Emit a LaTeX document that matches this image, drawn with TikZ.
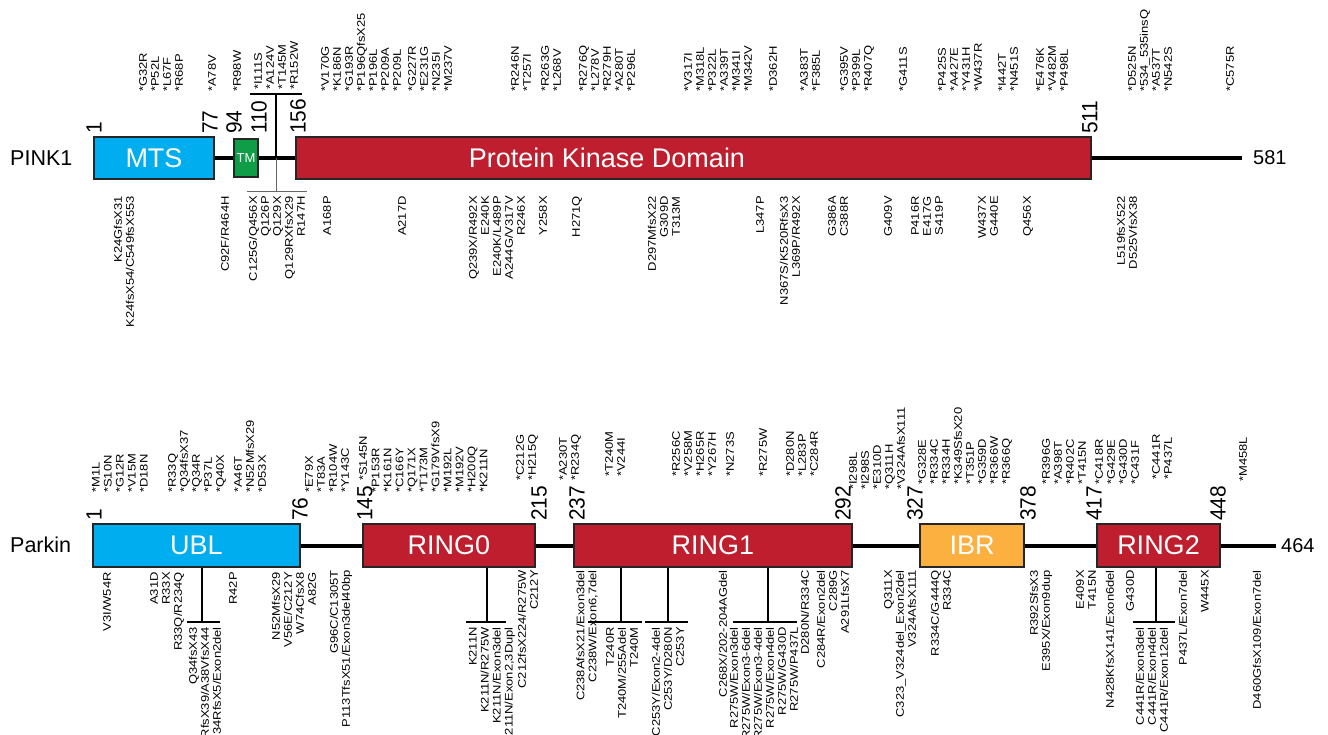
\documentclass[tikz,border=0pt]{standalone}
\usepackage{fontspec}
\setmainfont{Liberation Sans}
\newfontfamily\lf[FakeStretch=1.18]{Liberation Sans}
\newfontfamily\nf[FakeStretch=0.95]{Liberation Sans}
\definecolor{mtsblue}{HTML}{00AEEF}
\definecolor{tmgreen}{HTML}{0F9D48}
\definecolor{kred}{HTML}{BE1E2D}
\definecolor{ibrorange}{HTML}{FBB040}
\begin{document}
\begin{tikzpicture}[x=1pt,y=-1pt,
  lab/.style={font=\lf\fontsize{11}{12}\selectfont, inner sep=0pt, rotate=90},
  up/.style={lab, anchor=west, align=left},
  dn/.style={lab, anchor=east, align=right},
  num/.style={font=\nf\fontsize{22}{22}\selectfont, inner sep=0pt, rotate=90, anchor=west},
  dom/.style={draw=black!85, line width=1.3pt, inner sep=0pt, text=white, font=\fontsize{27}{27}\selectfont},
  domtext/.style={text=white, inner sep=0pt, font=\fontsize{27}{27}\selectfont},
  bb/.style={line width=4pt},
  brk/.style={line width=2.5pt},
  pbrk/.style={line width=1.5pt},
  rowname/.style={font=\fontsize{21.5}{21.5}\selectfont, anchor=west, inner sep=0pt},
  endnum/.style={font=\fontsize{20}{20}\selectfont, anchor=west, inner sep=0pt}]
\useasboundingbox (0,0) rectangle (1328,734);
\clip (0,0) rectangle (1328,734);
\fill[white] (0,0) rectangle (1328,734);

% ---------------- PINK1 ----------------
\node[rowname] (pinklab) at (10,158) {PINK1};
\node[dom, fill=mtsblue, minimum width=120pt, minimum height=42pt] (mts) at (154,158) {MTS};
\node[dom, fill=tmgreen, minimum width=24pt, minimum height=38pt, font=\fontsize{13}{13}\selectfont] (tm) at (246,158) {TM};
\node[dom, fill=kred, minimum width=795pt, minimum height=42pt] (pkd) at (693.5,158) {};
\node[domtext] (pkdlab) at (607,158) {Protein Kinase Domain};
\coordinate (pend) at (1242,158);
\node[endnum] (p581) at (1253,158) {581};
\draw[bb] (mts.east) -- (tm.west);
\draw[bb] (tm.east) -- (pkd.west);
\draw[bb] (pkd.east) -- (pend);

\node[num] (pn1) at (94,134) {1};
\node[num] (pn77) at (210,134) {77};
\node[num] (pn94) at (234,134) {94};
\node[num] (pn110) at (259,134) {110};
\node[num] (pn156) at (298,134) {156};
\node[num] (pn511) at (1090,134) {511};

% brackets
\coordinate (pbt) at (276,94);
\draw[pbrk] (pbt |- pkd.west) -- (pbt);
\draw[pbrk] ([xshift=-26pt]pbt) -- ([xshift=26pt]pbt);
\coordinate (pbb) at (276,191);
\draw[line width=1pt, black!60] (pbb |- pkd.west) -- (pbb);
\draw[line width=1pt, black!60] ([xshift=-29pt]pbb) -- ([xshift=31pt]pbb);

% top labels
\node[up] (tA) at (161,92) {*G32R\\*P52L\\*L67F\\*R68P};
\node[up] (tB) at (212,92) {*A78V};
\node[up] (tC) at (237,92) {*R98W};
\node[up] (tD) at (276,90) {*I111S\\*A124V\\*T145M\\*R152W};
\node[up] (tE) at (361,92) {*V170G\\*K186N\\*G193R\\*P196QfsX25\\*P196L\\*P209A\\*P209L};
\node[up] (tF) at (430,92) {*G227R\\*E231G\\*N235I\\*M237V};
\node[up] (tG) at (521,92) {*R246N\\*T257I};
\node[up] (tH) at (551,92) {*R263G\\*L268V};
\node[up] (tI) at (607,92) {*R276Q\\*L278V\\*R279H\\*A280T\\*P296L};
\node[up] (tJ) at (718,92) {*V317I\\*M318L\\*P322L\\*A339T\\*M341I\\*M342V};
\node[up] (tK) at (773,92) {*D362H};
\node[up] (tL) at (810,92) {*A383T\\*F385L};
\node[up] (tM) at (857,92) {*G395V\\*P399L\\*R407Q};
\node[up] (tN) at (903,92) {*G411S};
\node[up] (tO) at (960,92) {*P425S\\*A427E\\*Y431H\\*W437R};
\node[up] (tP) at (1008,92) {*I442T\\*N451S};
\node[up] (tQ) at (1052,92) {*E476K\\*V482M\\*P498L};
\node[up] (tR) at (1150,92) {*D525N\\*534\_535insQ\\*A537T\\*N542S};
\node[up] (tS) at (1230,92) {*C575R};

% bottom labels
\node[dn] (ba) at (124,196) {K24GfsX31\\K24fsX54/C549fsX553};
\node[dn] (bb) at (225,196) {C92F/R464H};
\node[dn] (bc) at (277,196) {C125G/Q456X\\Q126P\\Q129X\\Q129RXfsX29\\R147H};
\node[dn] (bd) at (327,196) {A168P};
\node[dn] (be) at (402,196) {A217D};
\node[dn] (bf) at (497,196) {Q239X/R492X\\E240K\\E240K/L489P\\A244G/V317V\\R246X};
\node[dn] (bg) at (543,196) {Y258X};
\node[dn] (bh) at (577,196) {H271Q};
\node[dn] (bi) at (664,196) {D297MfsX22\\G309D\\T313M};
\node[dn] (bj) at (760,196) {L347P};
\node[dn] (bk) at (790,196) {N367S/K520RfsX3\\L369P/R492X};
\node[dn] (bl) at (838,196) {G386A\\C388R};
\node[dn] (bm) at (888,196) {G409V};
\node[dn] (bn) at (927,196) {P416R\\E417G\\S419P};
\node[dn] (bo) at (988,196) {W437X\\G440E};
\node[dn] (bp) at (1028,196) {Q456X};
\node[dn] (bq) at (1127,196) {L519fsX522\\D525VfsX38};

% ---------------- Parkin ----------------
\node[rowname] (parklab) at (10,545) {Parkin};
\node[dom, fill=mtsblue, minimum width=207pt, minimum height=43pt] (ubl) at (196.5,545.5) {UBL};
\node[dom, fill=kred, minimum width=172pt, minimum height=43pt] (ring0) at (449,545.5) {RING0};
\node[dom, fill=kred, minimum width=278pt, minimum height=43pt] (ring1) at (713,545.5) {RING1};
\node[dom, fill=ibrorange, minimum width=104pt, minimum height=43pt] (ibr) at (972,545.5) {IBR};
\node[dom, fill=kred, minimum width=123pt, minimum height=43pt] (ring2) at (1158.5,545.5) {RING2};
\coordinate (kend) at (1276,545.5);
\node[endnum] (k464) at (1281,545.5) {464};
\draw[bb] (ubl.east) -- (ring0.west);
\draw[bb] (ring0.east) -- (ring1.west);
\draw[bb] (ring1.east) -- (ibr.west);
\draw[bb] (ibr.east) -- (ring2.west);
\draw[bb] (ring2.east) -- (kend);

\node[num] (kn1) at (94,521) {1};
\node[num] (kn76) at (300,521) {76};
\node[num] (kn145) at (365,521) {145};
\node[num] (kn215) at (539,521) {215};
\node[num] (kn237) at (577,521) {237};
\node[num] (kn292) at (843,521) {292};
\node[num] (kn327) at (915,521) {327};
\node[num] (kn378) at (1028,521) {378};
\node[num] (kn417) at (1094,521) {417};
\node[num] (kn448) at (1218,521) {448};

% top labels
\node[up] (u1) at (120,493) {*M1L\\*S10N\\*G12R\\*V15M\\*D18N};
\node[up] (u2) at (197,493) {*R33Q\\*Q34fsX37\\*Q34R\\*P37L\\*Q40X};
\node[up] (u3) at (250,493) {*A46T\\*N52MfsX29\\*D53X};
\node[up] (u4) at (327,493) {*E79X\\*T83A\\*R104W\\*Y143C};
\node[up] (u5) at (363,481) {*S145N};
\node[up] (u6) at (429.5,493) {*P153R\\*K161N\\*C166Y\\*Q171X\\*T173M\\*G179VfsX9\\*M192L\\*M192V\\*H200Q\\*K211N};
\node[up] (u7) at (527,481) {*C212G\\*H215Q};
\node[up] (u8) at (570,481) {*A230T\\*R234Q};
\node[up] (u9) at (615,477) {*T240M\\*V244I};
\node[up] (u10) at (694,477) {*R256C\\*V258M\\*H265R\\*Y267H};
\node[up] (u11) at (730,477) {*N273S};
\node[up] (u12) at (763,477) {*R275W};
\node[up] (u13) at (802,477) {*D280N\\*L283P\\*C284R};
\node[up] (u14) at (877,490) {*I298L\\*I298S\\*E310D\\*Q311H\\*V324AfsX111};
\node[up] (u15) at (965,485) {*G328E\\*R334C\\*R334H\\*K349SfsX20\\*T351P\\*G359D\\*R366W\\*R366Q};
\node[up] (u16) at (1064,485) {*R396G\\*A398T\\*R402C\\*T415N};
\node[up] (u17) at (1117,485) {*C418R\\*G429E\\*G430D\\*C431F};
\node[up] (u18) at (1162,480) {*C441R\\*P437L};
\node[up] (u19) at (1243,482) {*M458L};

% brackets
\coordinate (k1) at (202,622);
\draw[brk] (k1 |- ubl.south) -- (k1);
\draw[brk] ([xshift=-15pt]k1) -- ([xshift=18pt]k1);
\coordinate (k2) at (487,622);
\draw[brk] (k2 |- ring0.south) -- (k2);
\draw[brk] ([xshift=-21pt]k2) -- ([xshift=19pt]k2);
\coordinate (k3) at (621,622);
\draw[brk] (k3 |- ring1.south) -- (k3);
\draw[brk] ([xshift=-33pt]k3) -- ([xshift=21pt]k3);
\coordinate (k4) at (668,622);
\draw[brk] (k4 |- ring1.south) -- (k4);
\draw[brk] ([xshift=-23pt]k4) -- ([xshift=20pt]k4);
\coordinate (k5) at (768,622);
\draw[brk] (k5 |- ring1.south) -- (k5);
\draw[brk] ([xshift=-35pt]k5) -- ([xshift=29pt]k5);
\coordinate (k6) at (1156,622);
\draw[brk] (k6 |- ring2.south) -- (k6);
\draw[brk] ([xshift=-23pt]k6) -- ([xshift=19pt]k6);

% bottom labels
\node[dn] (d1) at (107,572) {V3I/W54R};
\node[dn] (d2) at (167,572) {A31D\\R33X\\R33Q/R234Q};
\node[dn] (d3) at (205,627) {Q34fsX43\\RfsX39/A38VfsX44\\34RfsX5/Exon2del};
\node[dn] (d4) at (233,572) {R42P};
\node[dn] (d5) at (288,572) {N52MfsX29\\V56E/C212Y\\W74CfsX8};
\node[dn] (d6) at (312,572) {A82G};
\node[dn] (d7) at (341,570) {G96C/C1305T\\P113TfsX51/Exon3del40bp};
\node[dn] (d8) at (492,627) {K211N\\K211N/R275W\\K211N/Exon3del\\K211N/Exon2,3Dupl};
\node[dn] (d9) at (528,570) {C212fsX224/R275W\\C212Y};
\node[dn] (d10) at (587,570) {C238AfsX21/Exon3del\\C238W/Exon6,7del};
\node[dn] (d11) at (622,627) {T240R\\T240M/255Adel\\T240M};
\node[dn] (d12) at (668,627) {C253Y/Exon2-4del\\C253Y/D280N\\C253Y};
\node[dn] (d13) at (723,570) {C268X/202-204AGdel};
\node[dn] (d14) at (764,627) {R275W/Exon3del\\R275W/Exon3-6del\\R275W/Exon3-4del\\R275W/Exon4del\\R275W/G430D\\R275W/P437L};
\node[dn] (d15) at (805,570) {D280N/R334C};
\node[dn] (d16) at (833,570) {C284R/Exon2del\\C289G\\A291LfsX7};
\node[dn] (d17) at (900,570) {Q311X\\C323\_V324del\_Exon2del\\V324AfsX111};
\node[dn] (d18) at (941,570) {R334C/G444Q\\R334C};
\node[dn] (d19) at (1041,570) {R392SfsX3\\E395X/Exon9dup};
\node[dn] (d20) at (1086,570) {E409X\\T415N};
\node[dn] (d21) at (1110,570) {N428KfsX141/Exon6del};
\node[dn] (d22) at (1130,570) {G430D};
\node[dn] (d23) at (1152,627) {C441R/Exon3del\\C441R/Exon4del\\C441R/Exon12del};
\node[dn] (d24) at (1183,570) {P437L/Exon7del};
\node[dn] (d25) at (1205,570) {W445X};
\node[dn] (d26) at (1257,570) {D460GfsX109/Exon7del};
\end{tikzpicture}
\end{document}
